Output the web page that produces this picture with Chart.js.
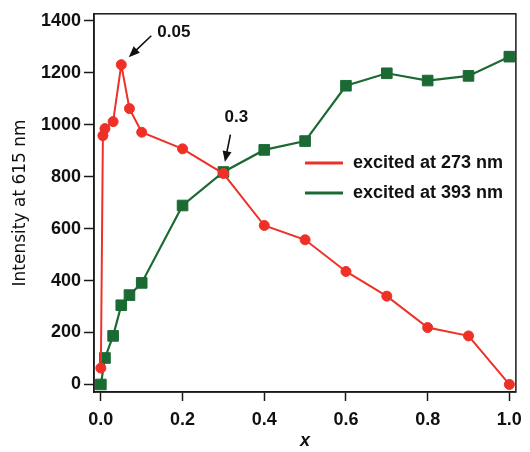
<!DOCTYPE html>
<html>
<head>
<meta charset="utf-8">
<script src="https://cdn.jsdelivr.net/npm/chart.js@4/dist/chart.umd.min.js"></script>
<style>
  html, body { margin: 0; padding: 0; background: #fff; }
  #wrap { width: 530px; height: 452px; }
</style>
</head>
<body>
<div id="wrap"><canvas id="chart"></canvas></div>
<script>
// data
const xRed = [0, 0.005, 0.01, 0.03, 0.05, 0.07, 0.1, 0.2, 0.3, 0.4, 0.5, 0.6, 0.7, 0.8, 0.9, 1.0];
const yRed = [63, 958, 985, 1012, 1231, 1062, 971, 907, 812, 612, 557, 435, 340, 219, 187, 0];
const xGreen = [0, 0.01, 0.03, 0.05, 0.07, 0.1, 0.2, 0.3, 0.4, 0.5, 0.6, 0.7, 0.8, 0.9, 1.0];
const yGreen = [0, 102, 187, 305, 344, 391, 689, 818, 903, 937, 1150, 1198, 1170, 1188, 1262];
const seriesNames = ["excited at 273 nm", "excited at 393 nm"];
const seriesColors = ["#ee3127", "#1b6a33"];
const xTicks = [0, 0.2, 0.4, 0.6, 0.8, 1.0];
const yTicks = [0, 200, 400, 600, 800, 1000, 1200, 1400];
const notes = [
  { x: 0.05, y: 1231, text: "0.05" },
  { x: 0.3, y: 812, text: "0.3" }
];

function pairs(xs, ys) {
  return xs.map(function(x, i) { return { x: x, y: ys[i] }; });
}

function arrow(ctx, x1, y1, x2, y2) {
  const a = Math.atan2(y2 - y1, x2 - x1);
  const len = 11, half = 4.5;
  ctx.beginPath();
  ctx.moveTo(x1, y1);
  ctx.lineTo(x2 - Math.cos(a) * len * 0.8, y2 - Math.sin(a) * len * 0.8);
  ctx.stroke();
  ctx.beginPath();
  ctx.moveTo(x2, y2);
  ctx.lineTo(x2 - Math.cos(a) * len + Math.sin(a) * half, y2 - Math.sin(a) * len - Math.cos(a) * half);
  ctx.lineTo(x2 - Math.cos(a) * len - Math.sin(a) * half, y2 - Math.sin(a) * len + Math.cos(a) * half);
  ctx.closePath();
  ctx.fill();
}

const extras = {
  id: "extras",
  afterDraw(chart) {
    const ctx = chart.ctx;
    const area = chart.chartArea;
    const xs = chart.scales.x, ys = chart.scales.y;
    ctx.save();

    // frame
    ctx.strokeStyle = "#1a1a1a";
    ctx.lineWidth = 1.5;
    ctx.strokeRect(area.left, area.top, area.right - area.left, area.bottom - area.top);

    // legend
    ctx.font = "bold 18px 'Liberation Sans', Arial, sans-serif";
    ctx.textBaseline = "middle";
    ctx.textAlign = "left";
    seriesNames.forEach(function(name, i) {
      const y = 163 + i * 30;
      ctx.strokeStyle = seriesColors[i];
      ctx.lineWidth = 3;
      ctx.beginPath();
      ctx.moveTo(305, y);
      ctx.lineTo(343, y);
      ctx.stroke();
      ctx.fillStyle = "#111";
      ctx.fillText(name, 353, y);
    });

    // arrows with labels
    ctx.strokeStyle = "#111";
    ctx.fillStyle = "#111";
    ctx.lineWidth = 1.6;
    const px0 = xs.getPixelForValue(notes[0].x), py0 = ys.getPixelForValue(notes[0].y);
    arrow(ctx, px0 + 30, py0 - 29, px0 + 7.5, py0 - 7.5);
    ctx.font = "bold 17px 'Liberation Sans', Arial, sans-serif";
    ctx.textAlign = "left";
    ctx.fillText(notes[0].text, px0 + 36, py0 - 32);

    const px1 = xs.getPixelForValue(notes[1].x), py1 = ys.getPixelForValue(notes[1].y);
    arrow(ctx, px1 + 7, py1 - 39, px1 + 1.5, py1 - 11.5);
    ctx.textAlign = "center";
    ctx.fillText(notes[1].text, px1 + 13, py1 - 56);

    ctx.restore();
  }
};

new Chart(document.getElementById("chart"), {
  type: "line",
  data: {
    datasets: [
      {
        label: seriesNames[0],
        data: pairs(xRed, yRed),
        borderColor: seriesColors[0],
        backgroundColor: seriesColors[0],
        borderWidth: 2,
        pointStyle: "circle",
        pointRadius: 5,
        pointBorderWidth: 1,
        tension: 0
      },
      {
        label: seriesNames[1],
        data: pairs(xGreen, yGreen),
        borderColor: seriesColors[1],
        backgroundColor: seriesColors[1],
        borderWidth: 2.2,
        pointStyle: "rect",
        pointRadius: 7.5,
        pointBorderWidth: 1,
        tension: 0
      }
    ]
  },
  options: {
    responsive: true,
    maintainAspectRatio: false,
    animation: false,
    events: [],
    layout: { padding: { top: 13, right: 6, left: 0, bottom: 0 } },
    plugins: {
      legend: { display: false },
      tooltip: { enabled: false }
    },
    scales: {
      x: {
        type: "linear",
        min: -0.0168,
        max: 1.016,
        afterBuildTicks: function(scale) { scale.ticks = xTicks.map(function(v) { return { value: v }; }); },
        afterFit: function(scale) { scale.height = 60; },
        grid: { drawOnChartArea: false, drawTicks: true, tickLength: 9, tickWidth: 1.5, tickColor: "#1a1a1a" },
        border: { display: true, color: "#1a1a1a", width: 1.5 },
        ticks: {
          padding: 8,
          color: "#111",
          font: { family: "'Liberation Sans', Arial, sans-serif", size: 18, weight: "bold" },
          callback: function(v) { return Number(v).toFixed(1); },
          maxRotation: 0
        },
        title: {
          display: true,
          text: "x",
          color: "#111",
          padding: { top: 0, bottom: 0 },
          font: { family: "'Liberation Sans', Arial, sans-serif", size: 18, weight: "bold", style: "italic" }
        }
      },
      y: {
        type: "linear",
        min: -29,
        max: 1427,
        afterBuildTicks: function(scale) { scale.ticks = yTicks.map(function(v) { return { value: v }; }); },
        afterFit: function(scale) { scale.width = 94; },
        grid: { drawOnChartArea: false, drawTicks: true, tickLength: 10, tickWidth: 1.5, tickColor: "#1a1a1a" },
        border: { display: true, color: "#1a1a1a", width: 1.5 },
        ticks: {
          padding: 3,
          color: "#111",
          font: { family: "'Liberation Sans', Arial, sans-serif", size: 18, weight: "bold" },
          callback: function(v) { return String(v); }
        },
        title: {
          display: true,
          text: "Intensity at 615 nm",
          color: "#111",
          padding: { top: 10, bottom: 0 },
          font: { family: "'DejaVu Sans', sans-serif", size: 17 }
        }
      }
    }
  },
  plugins: [extras]
});
</script>
</body>
</html>
